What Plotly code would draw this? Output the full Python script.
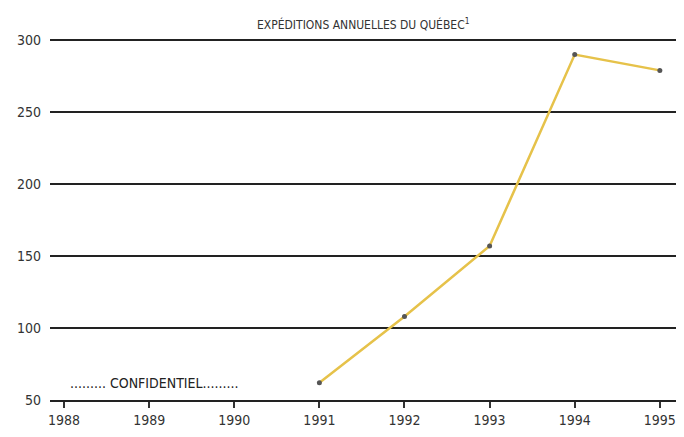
import plotly.graph_objects as go

# ============================================================
# Data
# ============================================================
years = [1991, 1992, 1993, 1994, 1995]
expeditions = [62, 108, 157, 290, 279]

tick_years = [1988, 1989, 1990, 1991, 1992, 1993, 1994, 1995]
tick_values = [50, 100, 150, 200, 250, 300]

FONT = "DejaVu Sans Condensed, Liberation Sans Narrow, Liberation Sans, sans-serif"

# ============================================================
# Figure  (page body has an 8px margin, so the figure is 16px smaller)
# ============================================================
fig = go.Figure()
fig.add_trace(go.Scatter(
    x=years, y=expeditions,
    mode="lines+markers",
    line=dict(color="#E6C24A", width=2.5),
    marker=dict(color="#555555", size=5),
    showlegend=False,
    hoverinfo="x+y",
    cliponaxis=False,
))

fig.add_annotation(
    x=0.5, y=1, xref="paper", yref="paper", yanchor="bottom",
    text="EXPÉDITIONS ANNUELLES DU QUÉBEC<sup>1</sup>",
    showarrow=False, yshift=4,
    font=dict(family=FONT, size=12, color="#333333"),
)
fig.add_annotation(
    x=1988.05, y=62, xanchor="left",
    text="......... CONFIDENTIEL.........",
    showarrow=False,
    font=dict(family=FONT, size=14, color="#222222"),
)

fig.update_layout(
    width=668, height=421,
    margin=dict(l=42, r=0, t=30, b=29, autoexpand=False),
    paper_bgcolor="white", plot_bgcolor="white",
    font=dict(family=FONT, size=14, color="#333333"),
    xaxis=dict(
        range=[1987.835, 1995.19],
        tickvals=tick_years,
        ticks="outside", ticklen=6, tickcolor="#333333", tickwidth=1.5,
        ticklabeloverflow="allow",
        showgrid=False, zeroline=False,
        showline=True, linecolor="#222222", linewidth=2,
        automargin=False,
        fixedrange=True,
    ),
    yaxis=dict(
        range=[50, 301.5],
        tickvals=tick_values,
        showgrid=True, gridcolor="#222222", gridwidth=2,
        zeroline=False, showline=False,
        ticks="", ticklabelstandoff=8,
        automargin=False,
        fixedrange=True,
    ),
)

fig.write_html("out.html")
